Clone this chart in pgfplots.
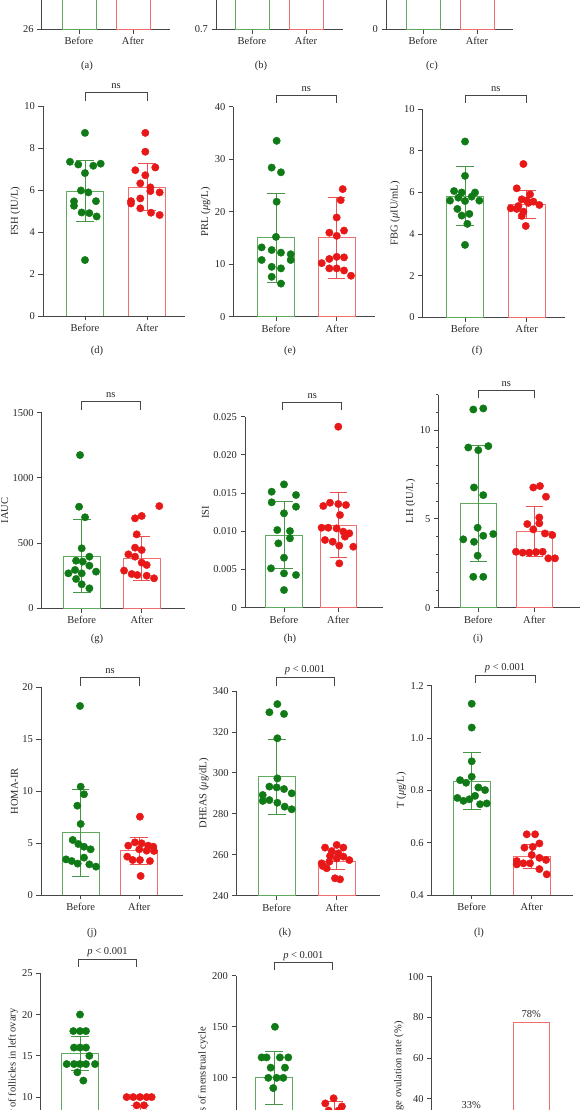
\documentclass[border=0pt]{standalone}
\usepackage{fontspec}
\setmainfont{Liberation Serif}
\usepackage{pgfplots}
\pgfplotsset{compat=1.18}
\definecolor{dotgreen}{RGB}{16,122,22}
\definecolor{bargreen}{RGB}{96,170,96}
\definecolor{errgreen}{RGB}{70,150,70}
\definecolor{dotred}{RGB}{232,24,24}
\definecolor{barred}{RGB}{240,110,110}
\definecolor{errred}{RGB}{235,80,80}
\definecolor{axisgray}{RGB}{70,70,70}
\definecolor{txt}{RGB}{40,40,40}
\newcommand{\tf}{\fontsize{10.5}{12.5}\selectfont}
\pgfplotsset{
 pan/.style={scale only axis, anchor=south west, axis lines=left,
   axis line style={-, draw=axisgray, line width=0.8pt},
   tick style={draw=axisgray, line width=0.8pt},
   tick align=outside, major tick length=4.5pt, minor tick length=2.5pt,
   xtick={0,1}, xticklabels={Before,After},
   tick label style={font=\tf, text=txt},
   label style={font=\tf, text=txt},
   ylabel style={yshift=-2.5pt},
   enlargelimits=false, scaled y ticks=false,
   /pgf/number format/assume math mode=true},
 gbar/.style={ybar, bar shift=0pt, bar width=#1, draw=bargreen, fill=none, line width=0.9pt,
   /pgfplots/error bars/y dir=both, /pgfplots/error bars/y explicit,
   /pgfplots/error bars/error bar style={draw=errgreen, line width=0.9pt},
   /pgfplots/error bars/error mark options={rotate=90, draw=errgreen, line width=0.9pt, mark size=8.8pt}},
 gbar/.default=36.7pt,
 rbar/.style={ybar, bar shift=0pt, bar width=#1, draw=barred, fill=none, line width=0.9pt,
   /pgfplots/error bars/y dir=both, /pgfplots/error bars/y explicit,
   /pgfplots/error bars/error bar style={draw=errred, line width=0.9pt},
   /pgfplots/error bars/error mark options={rotate=90, draw=errred, line width=0.9pt, mark size=8.8pt}},
 rbar/.default=36.7pt,
 gdot/.style={only marks, mark=*, mark size=3.7pt, draw=dotgreen, fill=dotgreen},
 rdot/.style={only marks, mark=*, mark size=3.7pt, draw=dotred, fill=dotred},
}
\begin{document}
\begin{tikzpicture}
\useasboundingbox (0,0) rectangle (580pt,1110pt);
\fill[white] (0,0) rectangle (580pt,1110pt);
\clip (0,0) rectangle (580pt,1110pt);

% ---------- row 1 (a,b,c) ----------
\begin{axis}[pan, at={(41.7pt,1080.7pt)}, width=128.3pt, height=210pt,
  xmin=-0.691, xmax=1.685, ymin=26, ymax=36, ytick={26,28,30,32,34,36}]
\addplot[gbar=34pt] coordinates {(0,34)};
\addplot[rbar=34pt] coordinates {(1,33)};
\end{axis}
\begin{axis}[pan, at={(216pt,1080.7pt)}, width=127pt, height=210pt,
  xmin=-0.667, xmax=1.685, ymin=0.7, ymax=1.2, ytick={0.7,0.8,0.9,1.0,1.1,1.2}]
\addplot[gbar=34pt] coordinates {(0,1.1)};
\addplot[rbar=34pt] coordinates {(1,1.05)};
\end{axis}
\begin{axis}[pan, at={(386pt,1080.7pt)}, width=127pt, height=210pt,
  xmin=-0.685, xmax=1.667, ymin=0, ymax=10, ytick={0,2,4,6,8,10}]
\addplot[gbar=34pt] coordinates {(0,8)};
\addplot[rbar=34pt] coordinates {(1,7)};
\end{axis}

% ---------- row 2 (d,e,f) ----------
\begin{axis}[pan, at={(43pt,794pt)}, width=142pt, height=209.5pt,
  xmin=-0.677, xmax=1.613, ymin=0, ymax=10, ytick={0,2,4,6,8,10}, ylabel={FSH (IU/L)}]
\addplot[gbar] coordinates {(0,5.95) +- (0,1.46)};
\addplot[rbar] coordinates {(1,6.14) +- (0,1.12)};
\addplot[gdot] coordinates {(0,8.74) (-0.242,7.36) (-0.108,7.23) (0.134,7.17) (0.253,7.27) (0,6.82) (-0.065,5.99) (0.054,5.90) (-0.177,5.47) (-0.177,5.26) (0.177,5.48) (-0.054,4.94) (0.07,4.91) (0.188,4.75) (0,2.67)};
\addplot[rdot] coordinates {(0.973,8.74) (0.973,7.84) (0.812,6.96) (1.134,7.09) (0.973,6.72) (0.892,6.33) (1.054,6.14) (1.054,5.96) (1.204,5.90) (0.742,5.48) (0.742,5.37) (0.892,5.61) (0.892,5.14) (1.065,4.93) (1.204,4.82)};
\end{axis}
\begin{axis}[pan, at={(233.3pt,793.3pt)}, width=141.7pt, height=210pt,
  xmin=-0.703, xmax=1.631, ymin=0, ymax=40, ytick={0,10,20,30,40}, ylabel={PRL (\textit{μ}g/L)}]
\addplot[gbar] coordinates {(0,15.0) +- (0,8.4)};
\addplot[rbar] coordinates {(1,15.0) +- (0,7.8)};
\addplot[gdot] coordinates {(0.011,33.5) (-0.071,28.4) (0.082,27.5) (0.011,21.9) (0,15.2) (-0.236,13.2) (-0.071,12.7) (0.082,12.2) (0.242,11.9) (0.242,10.8) (-0.236,10.8) (-0.071,9.5) (0.082,9.2) (-0.071,7.6) (0.082,6.3)};
\addplot[rdot] coordinates {(1.099,24.3) (1.066,22.2) (1,18.9) (0.879,16.0) (1.121,16.4) (1,15.4) (0.753,10.2) (0.879,11.0) (1,11.4) (1.121,11.3) (0.879,9.2) (1,9.2) (1.121,8.8) (1.236,7.8)};
\end{axis}
\begin{axis}[pan, at={(422.7pt,792.7pt)}, width=142.3pt, height=208pt,
  xmin=-0.686, xmax=1.62, ymin=0, ymax=10, ytick={0,2,4,6,8,10}, ylabel={FBG (\textit{μ}IU/mL)}]
\addplot[gbar] coordinates {(0,5.83) +- (0,1.43)};
\addplot[rbar] coordinates {(1,5.43) +- (0,0.68)};
\addplot[gdot] coordinates {(0,8.45) (0,6.8) (-0.178,6.07) (-0.054,6.0) (0.162,6.0) (-0.243,5.61) (0,5.59) (0.108,5.8) (0.232,5.61) (-0.124,5.21) (-0.054,4.89) (0.07,4.97) (0.038,4.49) (0,3.48) (-0.108,5.75)};
\addplot[rdot] coordinates {(0.946,7.37) (0.838,6.2) (1.054,5.91) (0.919,5.67) (1,5.61) (1.108,5.56) (1.205,5.4) (0.741,5.24) (0.838,5.21) (0.946,5.08) (0.919,4.87) (0.984,4.39) (1.027,5.5) (0.865,5.35)};
\end{axis}

% ---------- row 3 (g,h,i) ----------
\begin{axis}[pan, at={(41.7pt,501.7pt)}, width=143.3pt, height=195.6pt,
  xmin=-0.667, xmax=1.722, ymin=0, ymax=1500, ytick={0,500,1000,1500}, yticklabels={0,500,1000,1500}, ylabel={IAUC}]
\addplot[gbar] coordinates {(0,401) +- (0,278)};
\addplot[rbar] coordinates {(1,383) +- (0,166)};
\addplot[gdot] coordinates {(-0.028,1175) (-0.044,779) (0.056,698) (0,460) (-0.094,365) (0.128,396) (0.017,358) (0.128,327) (-0.222,268) (0,268) (0.239,281) (-0.094,225) (0,184) (0.128,153) (-0.111,294)};
\addplot[rdot] coordinates {(1.294,784) (0.889,690) (1,708) (0.917,567) (0.889,465) (1,447) (0.778,414) (0.889,396) (1,350) (1.083,332) (0.706,289) (0.833,263) (0.928,255) (1.083,250) (1.206,230)};
\end{axis}
\begin{axis}[pan, at={(245pt,502.3pt)}, width=138pt, height=191pt,
  xmin=-0.718, xmax=1.823, ymin=0, ymax=0.025, ytick={0,0.005,0.01,0.015,0.02,0.025},
  yticklabels={0,0.005,0.010,0.015,0.020,0.025}, ylabel={ISI}]
\addplot[gbar] coordinates {(0,0.00951) +- (0,0.0044)};
\addplot[rbar] coordinates {(1,0.01082) +- (0,0.0042)};
\addplot[gdot] coordinates {(0,0.01614) (-0.227,0.01518) (0.221,0.01475) (-0.227,0.01379) (0.221,0.01322) (0,0.01235) (-0.123,0.01017) (0.11,0.01003) (0.11,0.00908) (-0.104,0.00842) (0,0.00654) (-0.239,0.00515) (0,0.00449) (0.221,0.00428) (0,0.00231)};
\addplot[rdot] coordinates {(1,0.02369) (0.724,0.01331) (0.847,0.01374) (1,0.01357) (1.141,0.01344) (1.031,0.01213) (0.693,0.01047) (0.816,0.01047) (0.969,0.01038) (1.092,0.00995) (1.202,0.00973) (0.755,0.00886) (0.896,0.00864) (1.018,0.00812) (1.276,0.00798) (1.123,0.0093) (1.018,0.0058)};
\end{axis}
\begin{axis}[pan, at={(438.3pt,502.3pt)}, width=146.7pt, height=213.1pt,
  xmin=-0.714, xmax=1.905, ymin=0, ymax=12, ytick={0,5,10}, minor ytick={1,2,3,4,6,7,8,9,11,12}, ylabel={LH (IU/L)}]
\addplot[gbar] coordinates {(0,5.87) +- (0,3.27)};
\addplot[rbar] coordinates {(1,4.3) +- (0,1.42)};
\addplot[gdot] coordinates {(-0.089,11.16) (0.089,11.22) (-0.179,9.02) (0.179,9.1) (0,8.87) (-0.077,6.77) (0.089,6.34) (-0.012,4.5) (-0.268,3.85) (-0.077,3.71) (0.089,4.05) (0.268,4.15) (-0.012,2.93) (-0.089,1.74) (0.089,1.74)};
\addplot[rdot] coordinates {(0.982,6.77) (1.101,6.85) (1.208,6.25) (1.089,5.08) (1.089,4.75) (0.875,4.71) (0.982,4.41) (1.19,4.18) (1.321,4.09) (0.673,3.15) (0.792,3.1) (0.911,3.1) (1.03,3.13) (1.149,3.15) (1.25,2.78) (1.369,2.78)};
\end{axis}

% ---------- row 4 (j,k,l) ----------
\begin{axis}[pan, at={(41pt,215pt)}, width=142pt, height=207.7pt,
  xmin=-0.677, xmax=1.746, ymin=0, ymax=20, ytick={0,5,10,15,20}, ylabel={HOMA-IR}]
\addplot[gbar] coordinates {(0,6.0) +- (0,4.17)};
\addplot[rbar] coordinates {(1,4.27) +- (0,1.3)};
\addplot[gdot] coordinates {(-0.011,18.2) (0,10.43) (0.057,9.7) (-0.057,8.6) (0,6.84) (-0.136,5.3) (-0.04,4.91) (0.057,4.65) (0.17,4.4) (0.057,3.6) (-0.25,3.43) (-0.153,3.27) (-0.051,3.02) (0.148,2.95) (0.261,2.73)};
\addplot[rdot] coordinates {(1.011,7.54) (0.812,4.75) (0.926,5.07) (1.04,4.98) (1.153,4.75) (1.239,4.65) (1,4.4) (1.125,4.27) (1.25,4.24) (0.795,3.69) (0.886,3.37) (1.011,3.37) (1.182,3.27) (1.023,1.83)};
\end{axis}
\begin{axis}[pan, at={(236.7pt,214.3pt)}, width=143.3pt, height=204.7pt,
  xmin=-0.667, xmax=1.722, ymin=240, ymax=340, ytick={240,260,280,300,320,340}, ylabel={DHEAS (\textit{μ}g/dL)}]
\addplot[gbar] coordinates {(0,298.1) +- (0,18.3)};
\addplot[rbar] coordinates {(1,256.6) +- (0,3.7)};
\addplot[gdot] coordinates {(0.011,333.6) (-0.122,329.6) (0.122,328.8) (0.011,316.9) (0.011,297.3) (-0.122,293.3) (0,292.9) (0.122,292.1) (-0.233,289.2) (0.25,290.0) (-0.233,286.3) (-0.122,286.7) (0.011,285.4) (0.133,283.5) (0.25,282.2)};
\addplot[rdot] coordinates {(0.806,263.5) (1,264.8) (1.111,263.5) (0.917,261.8) (1.028,260.7) (1.111,259.1) (1.211,257.4) (0.75,255.8) (0.878,256.6) (0.833,253.4) (0.972,248.5) (1.056,248.0) (0.889,259.4) (1,258.2) (0.767,254.5)};
\end{axis}
\begin{axis}[pan, at={(431.7pt,215pt)}, width=141.3pt, height=209.3pt,
  xmin=-0.667, xmax=1.688, ymin=0.4, ymax=1.2, ytick={0.4,0.6,0.8,1.0,1.2},
  yticklabels={0.4,0.6,0.8,1.0,1.2}, ylabel={T (\textit{μ}g/L)}]
\addplot[gbar] coordinates {(0,0.835) +- (0,0.108)};
\addplot[rbar] coordinates {(1,0.546) +- (0,0.046)};
\addplot[gdot] coordinates {(0,1.131) (0,1.040) (0,0.911) (-0.194,0.839) (-0.094,0.829) (0,0.852) (0.111,0.811) (0.222,0.801) (-0.239,0.771) (-0.139,0.760) (-0.039,0.766) (0.056,0.779) (0.139,0.747) (0.25,0.750)};
\addplot[rdot] coordinates {(0.917,0.632) (1.056,0.632) (1.128,0.597) (0.878,0.581) (1.017,0.584) (1.128,0.542) (1.239,0.534) (0.75,0.530) (0.861,0.521) (0.972,0.521) (0.75,0.517) (1,0.553) (1.128,0.499) (1.25,0.479)};
\end{axis}

% ---------- row 5 (m,n,o) ----------
\begin{axis}[pan, at={(40.7pt,-69.6pt)}, width=142.3pt, height=206.3pt,
  xmin=-0.655, xmax=1.717, ymin=0, ymax=25, ytick={0,5,10,15,20,25}, ylabel={Number of follicles in left ovary}]
\addplot[gbar] coordinates {(0,15.3) +- (0,2.1)};
\addplot[rbar] coordinates {(1,7.5) +- (0,1.5)};
\addplot[gdot] coordinates {(0,20) (-0.111,18) (0,18) (0.1,18) (-0.1,16) (0,16) (0.1,16) (0.156,15) (-0.222,14) (-0.1,14) (0,14) (0.1,14) (0.25,14) (-0.044,13) (0.056,12)};
\addplot[rdot] coordinates {(0.778,10) (0.889,10) (1,10) (1.111,10) (1.194,10) (0.944,9) (1.067,9) (0.889,8) (1.111,8) (1,7) (1,6) (0.889,5) (1.111,5)};
\end{axis}
\begin{axis}[pan, at={(236pt,-70pt)}, width=144pt, height=204.3pt,
  xmin=-0.638, xmax=1.762, ymin=0, ymax=200, ytick={0,50,100,150,200}, ylabel={Days of menstrual cycle}]
\addplot[gbar] coordinates {(0,100) +- (0,26)};
\addplot[rbar] coordinates {(1,65) +- (0,12)};
\addplot[gdot] coordinates {(0.011,150) (-0.211,120) (-0.128,120) (0.094,120) (0.233,120) (-0.06,110) (0.178,110) (-0.1,100) (0.039,100) (0.15,100) (-0.017,90) (0,60) (0.1,55) (-0.1,50)};
\addplot[rdot] coordinates {(0.989,80) (0.85,75) (1.128,72) (0.906,68) (1.072,68) (1,60) (0.9,55) (1.1,55)};
\end{axis}
\begin{axis}[pan, at={(431.7pt,-70pt)}, width=141.3pt, height=203.3pt,
  xmin=-0.66, xmax=1.695, ymin=0, ymax=100, ytick={0,20,40,60,80,100}, ylabel={Average ovulation rate (\%)}]
\addplot[ybar, bar shift=0pt, bar width=36.7pt, draw=bargreen, fill=none, line width=0.9pt] coordinates {(0,33)};
\addplot[ybar, bar shift=0pt, bar width=36.7pt, draw=barred, fill=none, line width=0.9pt] coordinates {(1,77.5)};
\node[font=\tf, text=txt, above=1pt] at (axis cs:0,33) {33\%};
\node[font=\tf, text=txt, above=1pt] at (axis cs:1,77.5) {78\%};
\end{axis}

% ---------- annotations (pixel coordinates, y downward) ----------
\begin{scope}[x=1pt, y=-1pt, yshift=1110pt]
\tikzset{br/.style={draw=axisgray, line width=0.8pt}, lb/.style={font=\tf, text=txt, anchor=base}, sl/.style={font=\tf, text=txt}}
% row 2
\draw[br] (85,101) -- (85,92.7) -- (147,92.7) -- (147,101);
\node[lb] at (116,89) {ns};
\draw[br] (276,103) -- (276,95.7) -- (336.7,95.7) -- (336.7,103);
\node[lb] at (306.3,92) {ns};
\draw[br] (465,103) -- (465,95) -- (526.7,95) -- (526.7,103);
\node[lb] at (495.8,91.3) {ns};
% row 3
\draw[br] (81.7,410) -- (81.7,401.7) -- (140,401.7) -- (140,410);
\node[lb] at (110.8,398) {ns};
\draw[br] (282.7,410) -- (282.7,402.3) -- (341.7,402.3) -- (341.7,410);
\node[lb] at (312.2,398.6) {ns};
\draw[br] (478.3,398) -- (478.3,390) -- (534.3,390) -- (534.3,398);
\node[lb] at (506.3,386.3) {ns};
% row 4
\draw[br] (80.7,686) -- (80.7,677) -- (139.3,677) -- (139.3,686);
\node[lb] at (110,673.3) {ns};
\draw[br] (276,686) -- (276,677) -- (334,677) -- (334,686);
\node[lb] at (305,673) {\textit{p} < 0.001};
\draw[br] (475,683) -- (475,675) -- (535,675) -- (535,683);
\node[lb] at (505,671) {\textit{p} < 0.001};
% row 5
\draw[br] (78.3,966.7) -- (78.3,959) -- (136.7,959) -- (136.7,966.7);
\node[lb] at (107.5,955) {\textit{p} < 0.001};
\draw[br] (274.3,970) -- (274.3,962.3) -- (332.3,962.3) -- (332.3,970);
\node[lb] at (303.3,958.3) {\textit{p} < 0.001};
% panel letters
\node[sl] at (87,66) {(a)};
\node[sl] at (261,66) {(b)};
\node[sl] at (432,66) {(c)};
\node[sl] at (97,350.7) {(d)};
\node[sl] at (290,350.7) {(e)};
\node[sl] at (477,350.7) {(f)};
\node[sl] at (97,639) {(g)};
\node[sl] at (290,639) {(h)};
\node[sl] at (478,639) {(i)};
\node[sl] at (92,933) {(j)};
\node[sl] at (285,933) {(k)};
\node[sl] at (479,933) {(l)};
\end{scope}
\end{tikzpicture}
\end{document}
